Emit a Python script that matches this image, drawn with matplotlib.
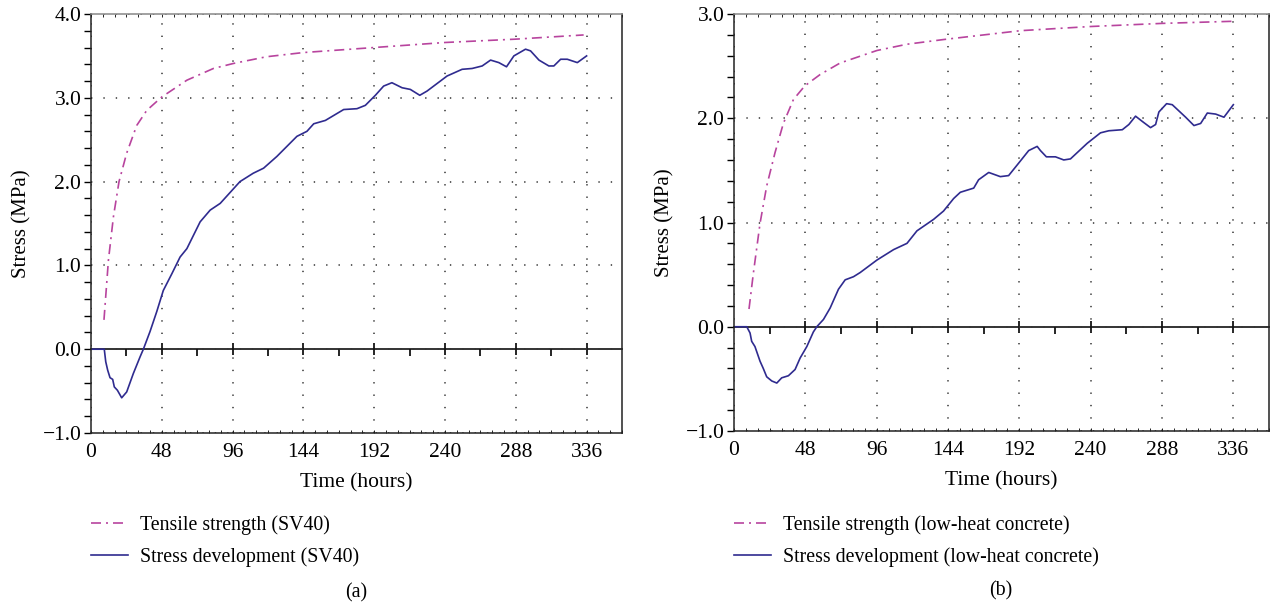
import numpy as np
import matplotlib
matplotlib.use("Agg")
import matplotlib.pyplot as plt
from matplotlib.ticker import MultipleLocator

plt.rcParams['font.family'] = ['Liberation Serif', 'DejaVu Serif']
plt.rcParams['font.size'] = 14

# ---- data ----
# (a) SV40
ts_a_t = [8.8, 11.8, 15.2, 19, 24.2, 31, 37.8, 48, 65, 83, 96.6, 119, 144, 192, 240, 288, 334]
ts_a_v = [0.35, 1.06, 1.58, 2.0, 2.34, 2.67, 2.85, 3.01, 3.21, 3.35, 3.41, 3.49, 3.54, 3.60, 3.66, 3.70, 3.75]

sd_a_t = [0, 9, 10, 11.3, 12.9, 14.7, 15.8, 17.9, 20.8, 24.2, 28.7, 33.3, 35.5, 40, 44.6, 49,
          54.8, 60.4, 65, 74, 80.8, 87.6, 101, 110, 117, 126, 132.8, 139.6, 146.4, 151, 158.9,
          171.3, 180.3, 186, 192.8, 198.4, 204, 210.9, 216.5, 222.9, 227.8, 234.6, 241.4,
          251.6, 258.4, 265.2, 270.9, 276.5, 281.7, 286.7, 294.6, 298, 303.7, 310.4, 313.8,
          318.4, 322.9, 329.7, 336]
sd_a_v = [0, 0, -0.15, -0.25, -0.34, -0.36, -0.45, -0.49, -0.58, -0.51, -0.29, -0.09, 0, 0.21, 0.45, 0.70,
          0.90, 1.10, 1.20, 1.52, 1.66, 1.74, 2.0, 2.10, 2.16, 2.30, 2.42, 2.54, 2.60, 2.69, 2.73,
          2.86, 2.87, 2.91, 3.03, 3.14, 3.18, 3.12, 3.10, 3.03, 3.08, 3.17, 3.26,
          3.34, 3.35, 3.38, 3.45, 3.42, 3.37, 3.50, 3.58, 3.56, 3.45, 3.38, 3.38,
          3.46, 3.46, 3.42, 3.50]

# (b) low-heat concrete
ts_b_t = [10.1, 13, 17.5, 22, 27.6, 33.2, 40, 47.6, 58, 71.4, 96.2, 116.4, 141, 192.7, 239.9, 288.2, 335.4]
ts_b_v = [0.17, 0.51, 0.99, 1.35, 1.67, 1.95, 2.18, 2.31, 2.42, 2.53, 2.65, 2.71, 2.755, 2.84, 2.88, 2.91, 2.93]

sd_b_t = [0, 8.6, 10.8, 11.9, 14.1, 17.5, 19.7, 22, 25.4, 28.8, 32.1, 36.6, 41.1, 44.5, 49, 53.4,
          55.7, 60.2, 64.7, 70.3, 74.8, 80.4, 84.9, 96.2, 107.4, 116.4, 123.1, 134.3, 141,
          147.8, 152.3, 161.3, 164.6, 171.4, 179.2, 184.8, 192.7, 198.3, 204, 206.2, 210.2,
          216.3, 221.9, 226.4, 237.7, 246.6, 252.2, 261.3, 265.7, 270.2, 274.7, 280.3, 283.7,
          285.9, 291.1, 294.9, 303.9, 309.5, 314, 318.5, 324.1, 329.7, 336]
sd_b_v = [0, 0, -0.06, -0.14, -0.19, -0.33, -0.40, -0.48, -0.52, -0.54, -0.49, -0.47, -0.41, -0.30, -0.19, -0.05,
          0, 0.07, 0.18, 0.36, 0.45, 0.48, 0.52, 0.64, 0.74, 0.80, 0.92, 1.03, 1.11,
          1.23, 1.29, 1.33, 1.41, 1.48, 1.44, 1.45, 1.59, 1.69, 1.73, 1.69, 1.63,
          1.63, 1.60, 1.61, 1.76, 1.86, 1.88, 1.89, 1.94, 2.02, 1.97, 1.91, 1.94,
          2.06, 2.14, 2.13, 2.01, 1.93, 1.95, 2.05, 2.04, 2.01, 2.13]

pink = '#b8449e'
navy = '#2f2b8f'

fig = plt.figure(figsize=(12.71, 6.08), dpi=100)

def panel(rect, ylim, ts_t, ts_v, sd_t, sd_v, name, tag, tag_xy):
    ax = fig.add_axes(rect)
    ax.plot(ts_t, ts_v, color=pink, lw=1.2, dashes=(6, 3, 1.2, 3),
            label='Tensile strength (%s)' % name)
    ax.plot(sd_t, sd_v, color=navy, lw=1.2, label='Stress development (%s)' % name)
    ax.set_xlim(0, 360)
    ax.set_ylim(*ylim)
    ax.xaxis.set_major_locator(MultipleLocator(48))
    ax.xaxis.set_minor_locator(MultipleLocator(8))
    ax.yaxis.set_major_locator(MultipleLocator(1))
    ax.yaxis.set_minor_locator(MultipleLocator(0.2))
    ax.set_xticks(np.arange(0, 337, 48))
    ax.yaxis.set_major_formatter(lambda v, p: ('%.1f' % v).replace('-', '\u2212'))
    ax.tick_params(axis='y', which='both', direction='out', length=5, width=1, labelsize=15.5, pad=2)
    ax.tick_params(axis='x', which='both', direction='in', length=2.5, width=0.6,
                   top=True, labelsize=15.5, pad=7)
    ax.grid(True, which='major', color='#333333', lw=1.1, ls=(0, (0.9, 7.2)))
    for s in ax.spines.values():
        s.set_color('#222222')
        s.set_linewidth(1.1)
    ax.spines['top'].set_color('#888888')

    # x axis drawn through zero
    frac = (0 - ylim[0]) / (ylim[1] - ylim[0])
    sec = ax.secondary_xaxis(frac)
    sec.set_xticks(np.arange(48, 337, 48))
    sec.set_xticks(np.arange(24, 337, 48), minor=True)
    sec.tick_params(which='major', direction='inout', length=9, width=1.2, labelbottom=False)
    sec.tick_params(which='minor', direction='out', length=5, width=1.2)
    sec.spines['bottom'].set_linewidth(1.2)
    sec.spines['bottom'].set_color('#111111')

    ax.set_xlabel('Time (hours)', fontsize=15.5, labelpad=8)
    ax.set_ylabel('Stress (MPa)', fontsize=15, labelpad=8)
    ax.legend(loc='upper left', bbox_to_anchor=(rect[0], 0.152), bbox_transform=fig.transFigure,
              frameon=False, borderpad=0, borderaxespad=0, handlelength=1.85,
              handletextpad=0.6, labelspacing=0.6, fontsize=14.3)
    fig.text(tag_xy[0], tag_xy[1], tag, ha='center', va='center', fontsize=14.3)
    return ax

panel([91 / 1271, 175 / 608, 531 / 1271, 419 / 608], (-1, 4), ts_a_t, ts_a_v, sd_a_t, sd_a_v,
      'SV40', '(a)', (356 / 1271, 1 - 593 / 608))
panel([734 / 1271, 177 / 608, 535 / 1271, 417 / 608], (-1, 3), ts_b_t, ts_b_v, sd_b_t, sd_b_v,
      'low-heat concrete', '(b)', (1001 / 1271, 1 - 591 / 608))

fig.savefig('out.png', dpi=100)
